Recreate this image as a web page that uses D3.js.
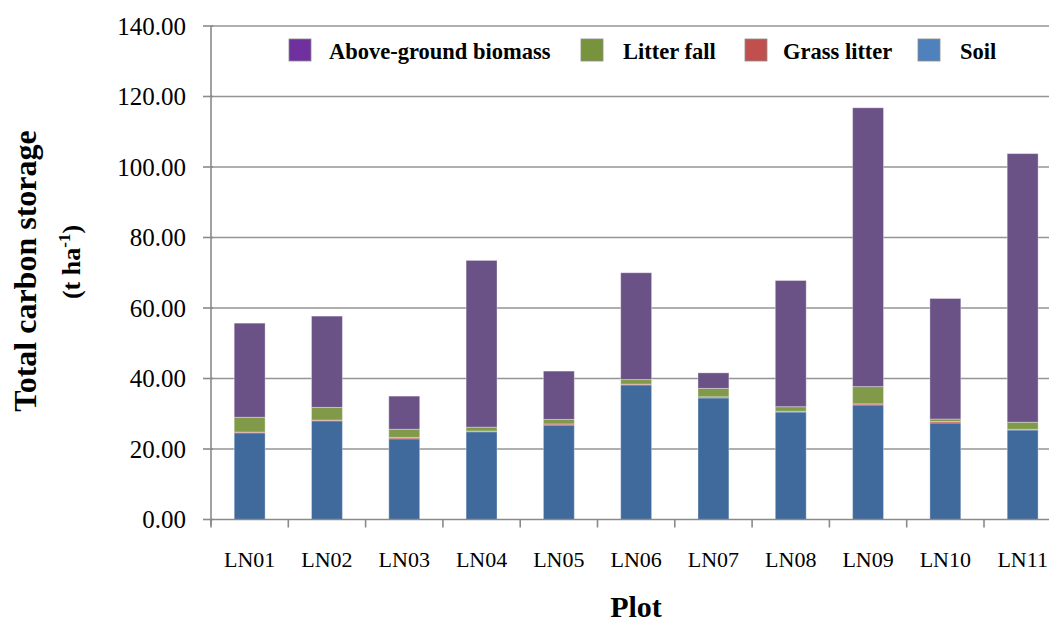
<!DOCTYPE html>
<html>
<head>
<meta charset="utf-8">
<script src="https://cdn.jsdelivr.net/npm/d3@7"></script>
<style>
  html, body { margin: 0; padding: 0; background: #fff; }
  svg { display: block; font-family: "Liberation Serif", "Times New Roman", serif; }
</style>
</head>
<body>
<svg id="chart" width="1049" height="623"></svg>
<script>
// Carbon storage components per plot (t ha-1)
const plots = ["LN01", "LN02", "LN03", "LN04", "LN05", "LN06", "LN07", "LN08", "LN09", "LN10", "LN11"];
const soil = [24.6, 28.0, 22.9, 24.9, 26.8, 38.2, 34.5, 30.5, 32.5, 27.4, 25.4];
const grassLitter = [0.2, 0.2, 0.4, 0.2, 0.3, 0.2, 0.3, 0.2, 0.3, 0.4, 0.2];
const litterFall = [4.2, 3.6, 2.3, 1.1, 1.3, 1.3, 2.4, 1.3, 4.9, 0.7, 2.0];
const aboveGround = [26.7, 25.9, 9.4, 47.3, 13.7, 30.3, 4.4, 35.8, 79.1, 34.2, 76.2];
const yTicks = [0, 20, 40, 60, 80, 100, 120, 140];

const seriesKeys = ["soil", "grass", "litter", "above"];
const barColors = { soil: "#406a9c", grass: "#b6504e", litter: "#809a49", above: "#6a5186" };
const legendItems = [
  { key: "above", label: "Above-ground biomass", color: "#7030a0" },
  { key: "litter", label: "Litter fall", color: "#77933c" },
  { key: "grass", label: "Grass litter", color: "#c0504d" },
  { key: "soil", label: "Soil", color: "#4f81bd" }
];

const rows = plots.map((p, i) => ({
  plot: p, soil: soil[i], grass: grassLitter[i], litter: litterFall[i], above: aboveGround[i]
}));

const svg = d3.select("#chart");
const x0 = 211, yTop = 26, yBottom = 519.5, bandStep = 77.3;

const x = d3.scaleBand().domain(plots).range([x0, x0 + bandStep * plots.length]).paddingInner(0.6).paddingOuter(0.3);
const y = d3.scaleLinear().domain([0, 140]).range([yBottom, yTop]);

const axisColor = "#8a8a8a";

// horizontal gridlines
svg.append("g").selectAll("line").data(yTicks.slice(1)).join("line")
  .attr("x1", x0).attr("x2", 1049)
  .attr("y1", d => y(d)).attr("y2", d => y(d))
  .attr("stroke", "#949494").attr("stroke-width", 1.6);

// stacked bars
const stacked = d3.stack().keys(seriesKeys)(rows);
svg.append("g").selectAll("g").data(stacked).join("g")
  .attr("fill", d => barColors[d.key])
  .selectAll("rect").data(d => d).join("rect")
  .attr("x", d => x(d.data.plot))
  .attr("width", x.bandwidth())
  .attr("y", d => y(d[1]))
  .attr("height", d => y(d[0]) - y(d[1]))
  .attr("stroke", "rgba(255,255,255,0.35)")
  .attr("stroke-width", 1);

// y axis
const yAxis = svg.append("g");
yAxis.append("line").attr("x1", x0).attr("x2", x0).attr("y1", yTop).attr("y2", yBottom + 6)
  .attr("stroke", axisColor).attr("stroke-width", 1.6);
yAxis.selectAll("line.tick").data(yTicks).join("line").attr("class", "tick")
  .attr("x1", x0 - 8).attr("x2", x0 + 2)
  .attr("y1", d => y(d)).attr("y2", d => y(d))
  .attr("stroke", axisColor).attr("stroke-width", 1.6);
yAxis.selectAll("text").data(yTicks).join("text")
  .attr("x", 186).attr("y", d => y(d)).attr("dy", "0.35em")
  .attr("text-anchor", "end").attr("font-size", 25).attr("fill", "#000")
  .text(d => d.toFixed(2));

// x axis
const xAxis = svg.append("g");
xAxis.append("line").attr("x1", x0).attr("x2", 1049).attr("y1", yBottom).attr("y2", yBottom)
  .attr("stroke", axisColor).attr("stroke-width", 1.6);
const bounds = d3.range(plots.length + 1).map(i => x0 + i * bandStep);
xAxis.selectAll("line.tick").data(bounds).join("line").attr("class", "tick")
  .attr("x1", d => d).attr("x2", d => d).attr("y1", yBottom).attr("y2", yBottom + 8)
  .attr("stroke", axisColor).attr("stroke-width", 1.6);
xAxis.selectAll("text").data(plots).join("text")
  .attr("x", d => x(d) + x.bandwidth() / 2).attr("y", 567)
  .attr("text-anchor", "middle").attr("font-size", 22).attr("fill", "#000")
  .text(d => d);

// axis titles
svg.append("text").attr("x", 636).attr("y", 617).attr("text-anchor", "middle")
  .attr("font-size", 30).attr("font-weight", "bold").text("Plot");

svg.append("text").attr("transform", "translate(36,271) rotate(-90)")
  .attr("text-anchor", "middle").attr("font-size", 32).attr("font-weight", "bold")
  .text("Total carbon storage");
const unit = svg.append("text").attr("transform", "translate(80,262) rotate(-90)")
  .attr("text-anchor", "middle").attr("font-size", 26).attr("font-weight", "bold");
unit.append("tspan").text("(t ha");
unit.append("tspan").attr("font-size", 17).attr("dy", -10).text("-1");
unit.append("tspan").attr("dy", 10).text(")");

// legend
const legendX = [289, 581, 745, 918];
const legendTextX = [329, 623, 783, 960];
const legend = svg.append("g");
legendItems.forEach((item, i) => {
  legend.append("rect").attr("x", legendX[i]).attr("y", 39).attr("width", 22).attr("height", 22)
    .attr("fill", item.color).attr("stroke", "#8c8c8c").attr("stroke-width", 0.8);
  legend.append("text").attr("x", legendTextX[i]).attr("y", 59)
    .attr("font-size", 22.5).attr("font-weight", "bold").text(item.label);
});
</script>
</body>
</html>
